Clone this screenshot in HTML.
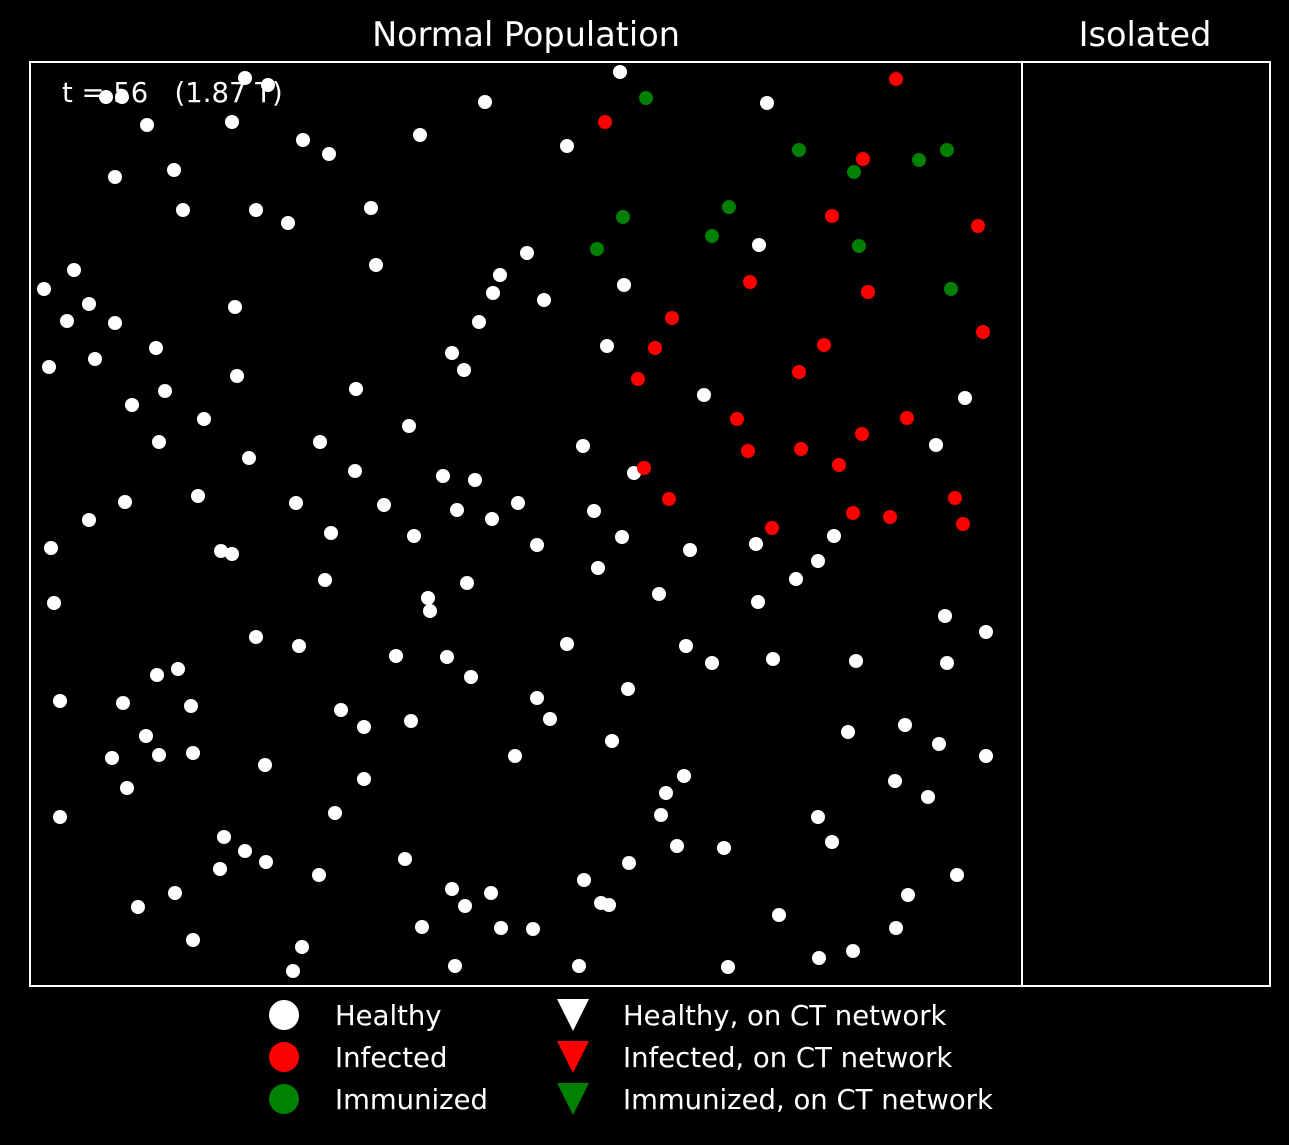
<!DOCTYPE html>
<html><head><meta charset="utf-8"><style>
html,body{margin:0;padding:0;background:#000;}
svg{display:block;font-family:"DejaVu Sans","Liberation Sans",sans-serif;}
</style></head><body>
<svg id="chart" width="1289" height="1145" viewBox="0 0 1289 1145">
<rect x="0" y="0" width="1289" height="1145" fill="#000"/>
<text x="526" y="46" fill="#fff" font-size="33.5" text-anchor="middle">Normal Population</text>
<text x="1145" y="46" fill="#fff" font-size="33.5" text-anchor="middle">Isolated</text>
<text x="62" y="102" fill="#fff" font-size="27.5" style="white-space:pre" xml:space="preserve">t = 56   (1.87 T)</text>
<g id="points"></g>
<rect x="30" y="62" width="992" height="924" fill="none" stroke="#fff" stroke-width="2"/>
<rect x="1022" y="62" width="248" height="924" fill="none" stroke="#fff" stroke-width="2"/>
<g font-size="27.5" fill="#fff">
<circle cx="284" cy="1015" r="15" fill="#fff"/>
<text x="335" y="1025">Healthy</text>
<circle cx="284" cy="1057" r="15" fill="#ff0000"/>
<text x="335" y="1067">Infected</text>
<circle cx="284" cy="1099" r="15" fill="#008000"/>
<text x="335" y="1109">Immunized</text>
<polygon points="557,999 589,999 573,1031" fill="#fff"/>
<text x="623" y="1025">Healthy, on CT network</text>
<polygon points="557,1041 589,1041 573,1073" fill="#ff0000"/>
<text x="623" y="1067">Infected, on CT network</text>
<polygon points="557,1083 589,1083 573,1115" fill="#008000"/>
<text x="623" y="1109">Immunized, on CT network</text>
</g>
</svg>
<script>
const healthyX=[215,238,76,92,117,202,273,299,390,455,590,737,537,85,144,153,226,258,341,346,497,470,463,514,449,594,729,577,422,434,14,44,59,37,85,205,126,19,65,135,207,326,102,174,129,219,290,379,325,413,445,553,604,674,935,906,95,59,168,266,354,427,462,488,564,21,191,202,301,384,507,592,660,726,804,788,766,568,295,398,400,437,629,728,24,915,956,226,269,366,417,441,537,656,682,743,826,917,30,93,127,148,161,311,334,381,507,520,598,116,82,129,163,235,334,485,582,818,875,909,956,97,30,305,654,636,631,865,898,788,802,194,215,236,190,289,375,647,694,599,554,108,145,422,461,435,571,579,927,878,163,272,263,392,471,503,425,549,698,749,789,823,866];
const healthyY=[908,901,889,889,861,864,846,832,851,884,914,883,840,809,816,776,776,763,778,721,733,711,693,686,664,701,741,640,633,616,697,716,682,665,663,679,638,619,627,595,610,597,581,567,544,528,544,560,515,510,506,540,513,591,588,541,484,466,490,483,481,476,467,483,475,438,435,432,453,450,441,449,436,442,450,425,407,418,406,388,375,403,392,384,383,370,354,349,340,330,329,309,342,340,323,327,325,323,285,283,311,317,280,276,259,265,288,267,297,250,228,231,233,221,207,230,245,254,261,242,230,198,169,173,210,193,171,205,189,169,144,149,135,124,117,111,127,140,138,123,106,79,93,97,93,80,83,81,111,91,46,39,15,59,58,57,20,20,19,71,28,35,58];
const infectedX=[866,575,833,802,948,720,838,642,625,953,794,608,769,707,877,718,771,832,809,614,639,925,823,860,933,742];
const infectedY=[907,864,827,770,760,704,694,668,638,654,641,607,614,567,568,535,537,552,521,518,487,488,473,469,462,458];
const immunizedX=[616,769,824,889,917,593,699,682,567,829,921];
const immunizedY=[888,836,814,826,836,769,779,750,737,740,697];

const xDomain=[0,992], yDomain=[0,924];
function xScale(v){return 30+(v-xDomain[0])/(xDomain[1]-xDomain[0])*992;}
function yScale(v){return 986-(v-yDomain[0])/(yDomain[1]-yDomain[0])*924;}
const layer=document.getElementById('points');
const NS='http://www.w3.org/2000/svg';
function draw(xs,ys,color,name){
  for(let i=0;i<xs.length;i++){
    const c=document.createElementNS(NS,'circle');
    c.setAttribute('cx',xScale(xs[i]));
    c.setAttribute('cy',yScale(ys[i]));
    c.setAttribute('r',7);
    c.setAttribute('fill',color);
    
    
    layer.appendChild(c);
  }
}
draw(healthyX,healthyY,'#fff','healthy-point');
draw(infectedX,infectedY,'#ff0000','infected-point');
draw(immunizedX,immunizedY,'#008000','immunized-point');
</script>
</body></html>
